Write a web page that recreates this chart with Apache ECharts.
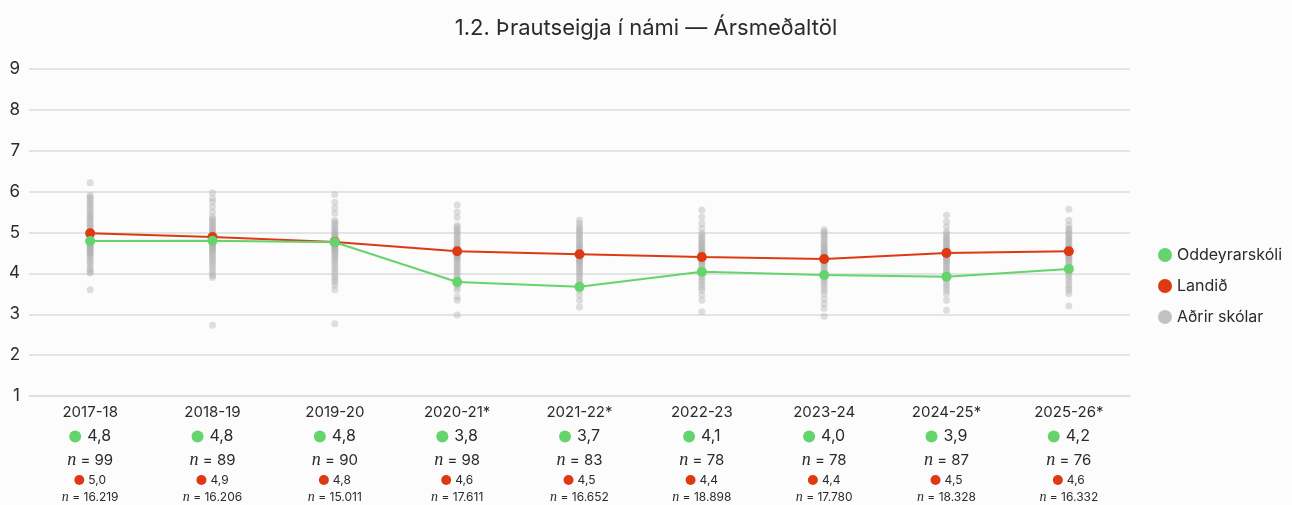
<!DOCTYPE html>
<html>
<head>
<meta charset="utf-8">
<script src="https://cdn.jsdelivr.net/npm/echarts@6/dist/echarts.min.js"></script>
<style>
  html, body { margin: 0; padding: 0; background: #fcfcfc; }
  #chart { width: 1292px; height: 505px; }
</style>
</head>
<body>
<div id="chart"></div>
<script>
// skólaár
const years = ['2017-18', '2018-19', '2019-20', '2020-21*', '2021-22*', '2022-23', '2023-24', '2024-25*', '2025-26*'];

// Oddeyrarskóli
const schoolValues = [4.79, 4.80, 4.76, 3.79, 3.67, 4.04, 3.96, 3.92, 4.11];
const schoolLabels = ['4,8', '4,8', '4,8', '3,8', '3,7', '4,1', '4,0', '3,9', '4,2'];
const schoolN = ['99', '89', '90', '98', '83', '78', '78', '87', '76'];

// Landið
const countryValues = [4.98, 4.89, 4.77, 4.54, 4.47, 4.40, 4.35, 4.50, 4.54];
const countryLabels = ['5,0', '4,9', '4,8', '4,6', '4,5', '4,4', '4,4', '4,5', '4,6'];
const countryN = ['16.219', '16.206', '15.011', '17.611', '16.652', '18.898', '17.780', '18.328', '16.332'];

// Aðrir skólar (meðaltöl einstakra skóla)
const others1718 = [6.22, 5.91, 5.87, 5.82, 5.76, 5.71, 5.66, 5.6, 5.55, 5.49, 5.44, 5.4, 5.35, 5.31, 5.26, 5.21, 5.17, 5.12, 5.08, 5.03, 4.99, 4.95, 4.92, 4.88, 4.84, 4.81, 4.77, 4.73, 4.7, 4.66, 4.63, 4.59, 4.55, 4.51, 4.47, 4.42, 4.37, 4.32, 4.27, 4.21, 4.15, 4.09, 4.04, 4.01, 3.6, 4.9, 4.8, 4.7, 4.6, 5.0, 4.5];
const others1819 = [5.97, 5.83, 5.75, 5.63, 5.5, 5.38, 5.33, 5.29, 5.24, 5.19, 5.15, 5.1, 5.06, 5.02, 4.98, 4.94, 4.9, 4.86, 4.83, 4.79, 4.75, 4.71, 4.67, 4.63, 4.59, 4.55, 4.5, 4.46, 4.41, 4.36, 4.31, 4.26, 4.2, 4.14, 4.07, 4.0, 3.94, 3.9, 2.73, 4.8, 4.7, 4.9, 4.6];
const others1920 = [5.93, 5.74, 5.6, 5.47, 5.3, 5.25, 5.2, 5.15, 5.1, 5.05, 5.01, 4.97, 4.93, 4.89, 4.85, 4.81, 4.77, 4.73, 4.69, 4.65, 4.61, 4.57, 4.53, 4.49, 4.45, 4.4, 4.35, 4.3, 4.24, 4.18, 4.12, 4.05, 3.98, 3.91, 3.85, 3.79, 3.71, 3.6, 2.77, 4.7, 4.8, 4.6, 4.9];
const others2021 = [5.67, 5.5, 5.37, 5.18, 5.13, 5.08, 5.03, 4.98, 4.93, 4.88, 4.83, 4.78, 4.73, 4.68, 4.63, 4.58, 4.53, 4.49, 4.45, 4.41, 4.36, 4.32, 4.27, 4.22, 4.17, 4.12, 4.07, 4.02, 3.96, 3.9, 3.84, 3.78, 3.72, 3.66, 3.59, 3.42, 3.34, 2.98, 4.5, 4.6, 4.4];
const others2122 = [5.3, 5.22, 5.14, 5.09, 5.04, 4.99, 4.94, 4.89, 4.84, 4.79, 4.74, 4.7, 4.66, 4.62, 4.57, 4.53, 4.49, 4.45, 4.41, 4.37, 4.33, 4.28, 4.23, 4.18, 4.13, 4.08, 4.03, 3.98, 3.92, 3.86, 3.8, 3.74, 3.67, 3.59, 3.47, 3.34, 3.18, 4.5, 4.4, 4.3];
const others2223 = [5.55, 5.38, 5.22, 5.1, 4.98, 4.93, 4.88, 4.83, 4.78, 4.74, 4.7, 4.66, 4.62, 4.58, 4.54, 4.5, 4.46, 4.42, 4.38, 4.34, 4.3, 4.26, 4.22, 4.17, 4.12, 4.07, 4.02, 3.97, 3.91, 3.85, 3.79, 3.72, 3.65, 3.59, 3.47, 3.34, 3.06, 4.4, 4.5, 4.3];
const others2324 = [5.07, 5.02, 4.97, 4.92, 4.87, 4.82, 4.77, 4.72, 4.68, 4.64, 4.6, 4.56, 4.52, 4.48, 4.44, 4.4, 4.36, 4.32, 4.28, 4.24, 4.2, 4.16, 4.11, 4.06, 4.01, 3.96, 3.9, 3.84, 3.78, 3.72, 3.65, 3.58, 3.5, 3.38, 3.26, 3.14, 2.95, 4.4, 4.3, 4.5];
const others2425 = [5.42, 5.26, 5.14, 5.02, 4.97, 4.92, 4.87, 4.83, 4.79, 4.75, 4.71, 4.67, 4.63, 4.59, 4.55, 4.51, 4.47, 4.43, 4.39, 4.35, 4.31, 4.27, 4.23, 4.18, 4.13, 4.08, 4.03, 3.98, 3.92, 3.86, 3.8, 3.73, 3.66, 3.58, 3.5, 3.34, 3.1, 4.5, 4.4, 4.6];
const others2526 = [5.57, 5.3, 5.18, 5.1, 5.05, 5.0, 4.95, 4.9, 4.86, 4.82, 4.78, 4.74, 4.7, 4.66, 4.62, 4.58, 4.54, 4.5, 4.46, 4.42, 4.38, 4.34, 4.3, 4.26, 4.21, 4.16, 4.11, 4.06, 4.0, 3.94, 3.87, 3.8, 3.72, 3.65, 3.59, 3.5, 3.2, 4.5, 4.6, 4.4];

const yTicks = [1, 2, 3, 4, 5, 6, 7, 8, 9];

const GREEN = '#66d46c';
const RED = '#dd3a13';
const GRAY = '#b0b0b0';
const FONT = 'Inter, "Noto Sans", sans-serif';

const othersAll = [others1718, others1819, others1920, others2021, others2122, others2223, others2324, others2425, others2526];
const othersData = [];
othersAll.forEach((arr, i) => {
  arr.forEach((v) => othersData.push([i, v]));
});

const chart = echarts.init(document.getElementById('chart'));

const option = {
  backgroundColor: '#fcfcfc',
  animation: false,
  textStyle: { fontFamily: FONT },
  title: {
    text: '1.2. Þrautseigja í námi — Ársmeðaltöl',
    left: 'center',
    top: 12,
    textStyle: { fontSize: 22, fontWeight: 'normal', color: '#2b2b2b', fontFamily: FONT },
  },
  grid: {
    left: 29,
    right: 162,
    top: 69,
    bottom: 109,
  },
  legend: {
    orient: 'vertical',
    left: 1158,
    top: 247,
    padding: 0,
    itemWidth: 14,
    itemHeight: 14,
    itemGap: 15,
    icon: 'circle',
    textStyle: { fontSize: 16, color: '#2b2b2b', fontFamily: FONT },
    data: [
      { name: 'Oddeyrarskóli' },
      { name: 'Landið' },
      { name: 'Aðrir skólar', itemStyle: { color: '#c2c2c2', opacity: 1 } },
    ],
  },
  xAxis: {
    type: 'category',
    data: years,
    boundaryGap: true,
    axisLine: { show: true, lineStyle: { color: '#dddddd', width: 1.5 } },
    axisTick: { show: false },
    splitLine: { show: false },
    axisLabel: {
      interval: 0,
      margin: 4,
      formatter: function (value, idx) {
        return (
          '{yr|' + value + '}\n' +
          '{gd|}{sp|}{gv|' + schoolLabels[idx] + '}\n' +
          '{ni|n}{nv| = ' + schoolN[idx] + '}\n' +
          '{rd|}{sp2|}{rv|' + countryLabels[idx] + '}\n' +
          '{ni2|n}{nv2| = ' + countryN[idx] + '}'
        );
      },
      rich: {
        yr: { fontSize: 15, color: '#2b2b2b', lineHeight: 24, fontFamily: FONT },
        gd: { width: 12, height: 12, borderRadius: 6, backgroundColor: GREEN, lineHeight: 25 },
        sp: { width: 6, lineHeight: 25 },
        gv: { fontSize: 16, color: '#2b2b2b', lineHeight: 25, fontFamily: FONT },
        ni: { fontSize: 18, fontStyle: 'italic', color: '#2b2b2b', lineHeight: 22, fontFamily: '"Liberation Serif", serif' },
        nv: { fontSize: 15, color: '#2b2b2b', lineHeight: 22, fontFamily: FONT },
        rd: { width: 10, height: 10, borderRadius: 5, backgroundColor: RED, lineHeight: 18 },
        sp2: { width: 4, lineHeight: 18 },
        rv: { fontSize: 12, color: '#2b2b2b', lineHeight: 18, fontFamily: FONT },
        ni2: { fontSize: 14, fontStyle: 'italic', color: '#2b2b2b', lineHeight: 16, fontFamily: '"Liberation Serif", serif' },
        nv2: { fontSize: 12, color: '#2b2b2b', lineHeight: 16, fontFamily: FONT },
      },
    },
  },
  yAxis: {
    type: 'value',
    min: yTicks[0],
    max: yTicks[yTicks.length - 1],
    interval: 1,
    axisLine: { show: false },
    axisTick: { show: false },
    splitLine: { show: true, lineStyle: { color: '#dddddd', width: 1.5 } },
    axisLabel: { fontSize: 17, color: '#2b2b2b', margin: 9, fontFamily: FONT },
  },
  series: [
    {
      name: 'Aðrir skólar',
      type: 'scatter',
      data: othersData,
      symbol: 'circle',
      symbolSize: 7,
      itemStyle: { color: GRAY, opacity: 0.4 },
      z: 1,
    },
    {
      name: 'Landið',
      type: 'line',
      data: countryValues,
      symbol: 'circle',
      symbolSize: 10,
      showSymbol: true,
      lineStyle: { color: RED, width: 2 },
      itemStyle: { color: RED },
      z: 2,
    },
    {
      name: 'Oddeyrarskóli',
      type: 'line',
      data: schoolValues,
      symbol: 'circle',
      symbolSize: 10,
      showSymbol: true,
      lineStyle: { color: GREEN, width: 2 },
      itemStyle: { color: GREEN },
      z: 3,
    },
  ],
};

chart.setOption(option);
</script>
</body>
</html>
